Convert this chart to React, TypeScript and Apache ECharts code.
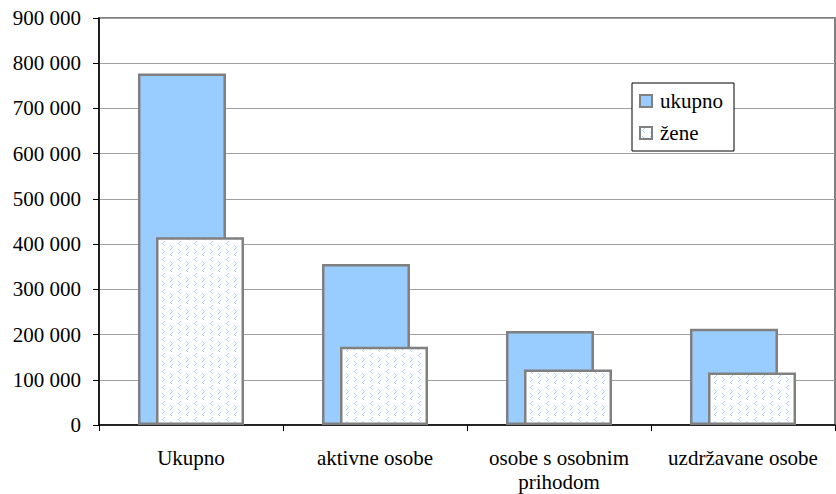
import React, { useEffect, useRef } from 'react';
import * as echarts from 'echarts';

const categories = ['Ukupno', 'aktivne osobe', 'osobe s osobnim\nprihodom', 'uzdržavane osobe'];
const ukupnoValues = [777000, 356000, 208000, 213000];
const zeneValues = [415000, 173000, 123000, 116000];
const seriesNames = ['ukupno', 'žene'];
const yMin = 0;
const yMax = 900000;
const yInterval = 100000;

function makePattern(): HTMLCanvasElement {
  const c = document.createElement('canvas');
  c.width = 16;
  c.height = 16;
  const ctx = c.getContext('2d')!;
  ctx.fillStyle = '#ffffff';
  ctx.fillRect(0, 0, 16, 16);
  ctx.fillStyle = '#a6d0fa';
  const px = (x: number, y: number) => ctx.fillRect(x, y, 1, 1);
  const lt = (x: number, y: number) => {
    px(x + 2, y);
    px(x + 1, y + 1);
    px(x, y + 2);
    px(x + 1, y + 3);
    px(x + 2, y + 4);
  };
  const gt = (x: number, y: number) => {
    px(x, y);
    px(x + 1, y + 1);
    px(x + 2, y + 2);
    px(x + 1, y + 3);
    px(x, y + 4);
  };
  lt(2, 1);
  gt(10, 5);
  gt(2, 9);
  lt(10, 12);
  return c;
}

const fmt = (v: number) => (v === 0 ? '0' : String(v).replace(/\B(?=(\d{3})+(?!\d))/g, ' '));

export default function App() {
  const ref = useRef<HTMLDivElement>(null);
  useEffect(() => {
    if (!ref.current) return;
    const chart = echarts.init(ref.current, undefined, { renderer: 'svg' });
    const pattern = makePattern();
    const font = 'serif';
    const lab = { fontFamily: font, fontSize: 21, color: '#000' };
    chart.setOption({
      animation: false,
      textStyle: { fontFamily: font, color: '#000' },
      grid: {
        left: 99,
        right: 1,
        top: 18,
        bottom: 66,
        show: true,
        borderColor: '#808080',
        borderWidth: 2,
      },
      legend: {
        orient: 'vertical',
        left: 632,
        top: 83,
        backgroundColor: '#fff',
        borderColor: '#000',
        borderWidth: 1,
        padding: [6, 11, 6, 7],
        itemWidth: 12,
        itemHeight: 12,
        itemGap: 8,
        icon: 'rect',
        textStyle: { ...lab, lineHeight: 24, padding: [0, 0, 0, 3] },
        data: seriesNames,
      },
      xAxis: {
        type: 'category',
        data: categories,
        axisLine: { lineStyle: { color: '#000', width: 1.5 } },
        axisTick: { show: true, length: 6, lineStyle: { color: '#000' } },
        axisLabel: { ...lab, lineHeight: 24, margin: 21, interval: 0 },
        splitLine: { show: false },
      },
      yAxis: {
        type: 'value',
        min: yMin,
        max: yMax,
        interval: yInterval,
        axisLine: { show: true, lineStyle: { color: '#000', width: 1.5 } },
        axisTick: { show: true, length: 6, lineStyle: { color: '#000' } },
        axisLabel: { ...lab, margin: 18, formatter: fmt },
        splitLine: { show: true, lineStyle: { color: '#a0a0a0', width: 1 } },
      },
      series: [
        {
          name: seriesNames[0],
          type: 'bar',
          data: ukupnoValues,
          barWidth: 88,
          barGap: '-79.5%',
          itemStyle: { color: '#99ccff', borderColor: '#808080', borderWidth: 2.5 },
        },
        {
          name: seriesNames[1],
          type: 'bar',
          data: zeneValues,
          barWidth: 88,
          barGap: '-79.5%',
          itemStyle: {
            color: { image: pattern, repeat: 'repeat' },
            borderColor: '#808080',
            borderWidth: 2.5,
          },
        },
      ],
    });
    return () => chart.dispose();
  }, []);
  return <div ref={ref} style={{ width: 836, height: 494, position: 'absolute', left: 0, top: 0 }} />;
}
